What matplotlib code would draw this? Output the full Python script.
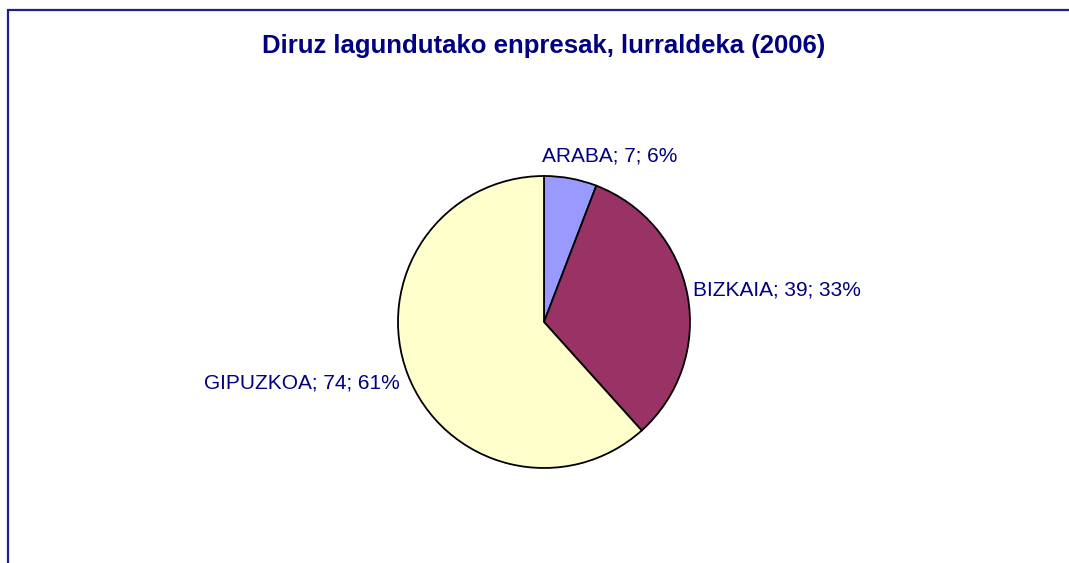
import matplotlib.pyplot as plt
from matplotlib.patches import Rectangle

# data
regions = ['ARABA', 'BIZKAIA', 'GIPUZKOA']
counts = [7, 39, 74]
percents = [6, 33, 61]
colors = ['#9999FF', '#993366', '#FFFFCC']

plt.rcParams['font.family'] = ['Liberation Sans', 'DejaVu Sans']

W, H = 1069, 563
fig = plt.figure(figsize=(W / 100, H / 100), dpi=100)

# outer frame (right and bottom edges fall outside the picture)
fig.patches.append(Rectangle((8 / W, -0.1), 1.2, 1 - 10 / H + 0.1,
                             transform=fig.transFigure, fill=False,
                             edgecolor='#1e1e8c', linewidth=1.6, clip_on=False))

fig.text(544 / W, 1 - 46 / H, 'Diruz lagundutako enpresak, lurraldeka (2006)',
         ha='center', va='center', fontsize=18.5, fontweight='bold', color='#000080')

# pie: center at (544, 322) px, radius 146 px
ax = fig.add_axes([(544 - 219) / W, (H - 322 - 219) / H, 438 / W, 438 / H])
wedges, _ = ax.pie(counts, colors=colors, startangle=90, counterclock=False,
                   wedgeprops=dict(edgecolor='black', linewidth=1.3))
ax.set_xlim(-1.5, 1.5)
ax.set_ylim(-1.5, 1.5)
ax.set_aspect('equal')
ax.axis('off')

# label placement (in pie radius units)
label_pos = [(0.45, 1.14, 'center'), (1.02, 0.22, 'left'), (-0.99, -0.42, 'right')]
for name, n, p, (x, y, ha) in zip(regions, counts, percents, label_pos):
    ax.text(x, y, f'{name}; {n}; {p}%', ha=ha, va='center',
            fontsize=15, color='#000080', clip_on=False)

fig.savefig('out.png', dpi=100)
